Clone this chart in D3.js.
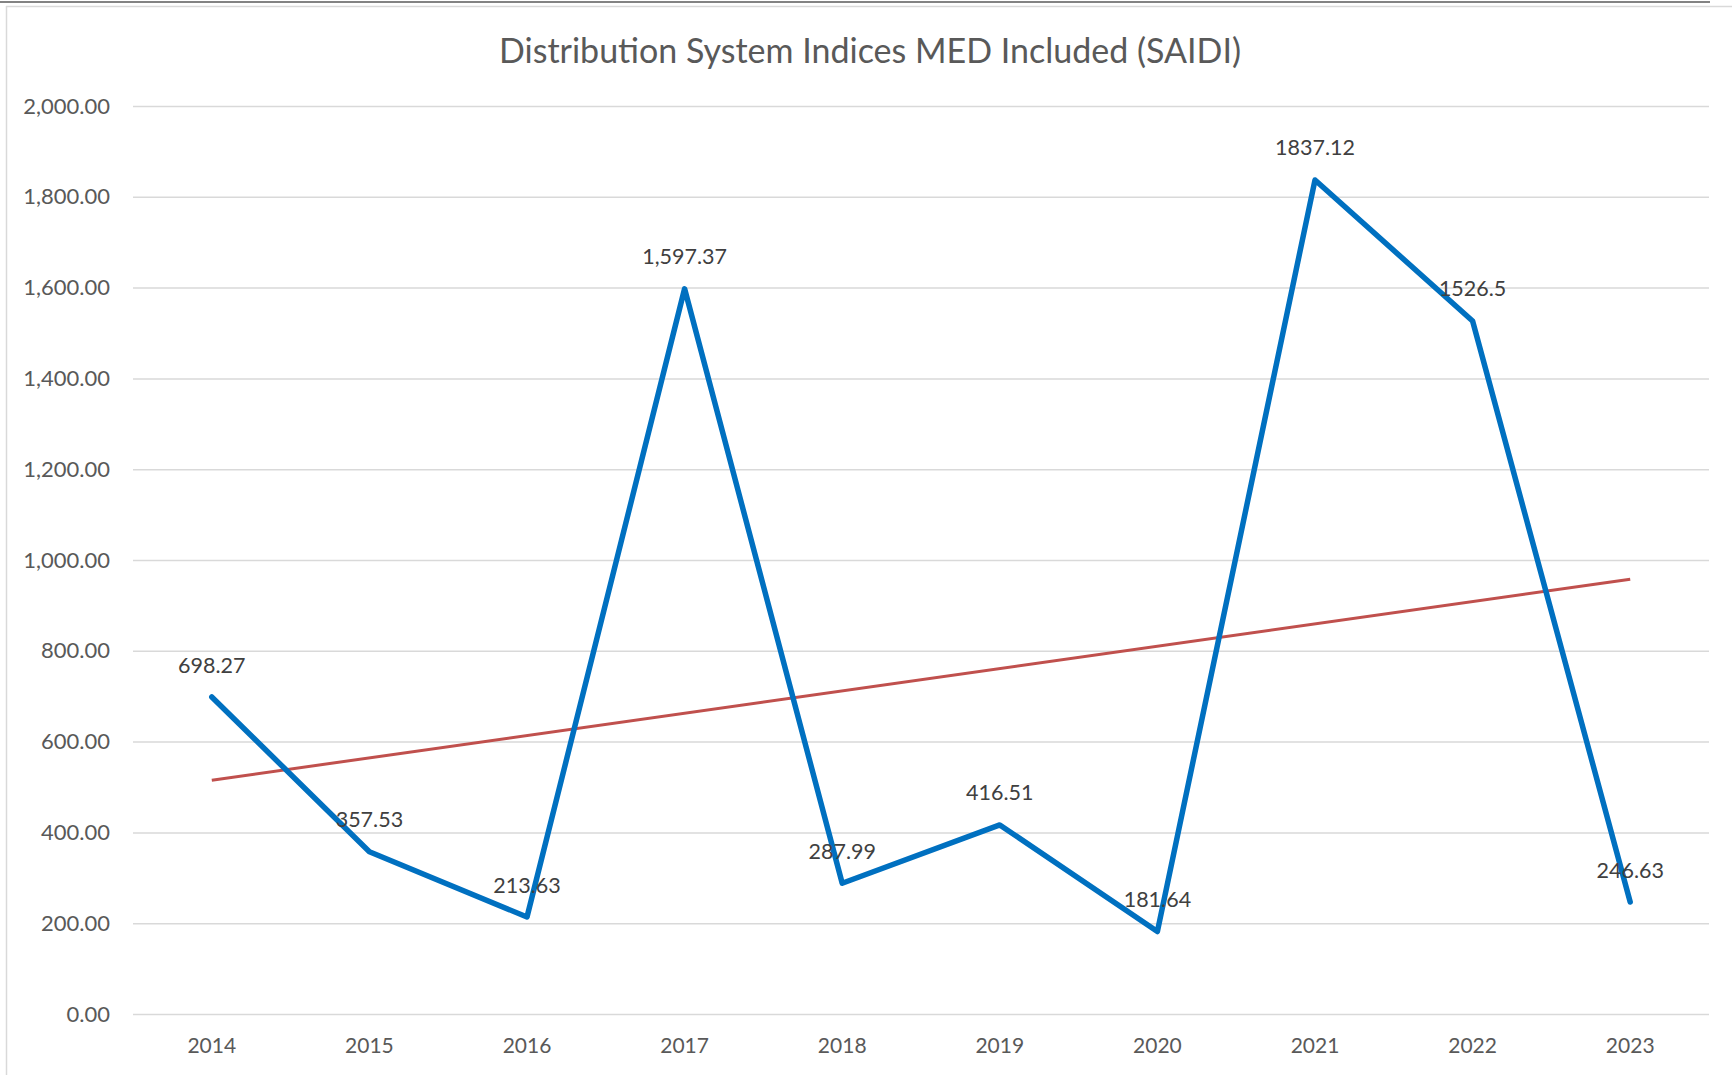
<!DOCTYPE html>
<html>
<head>
<meta charset="utf-8">
<script src="https://cdn.jsdelivr.net/npm/d3@7"></script>
<style>
  html, body { margin: 0; padding: 0; background: #fff; }
  svg { display: block; }
</style>
</head>
<body>
<svg id="chart" width="1732" height="1075"></svg>
<script>
// chart data
const years = ["2014", "2015", "2016", "2017", "2018", "2019", "2020", "2021", "2022", "2023"];
const saidi = [698.27, 357.53, 213.63, 1597.37, 287.99, 416.51, 181.64, 1837.12, 1526.5, 246.63];
const pointLabels = ["698.27", "357.53", "213.63", "1,597.37", "287.99", "416.51", "181.64", "1837.12", "1526.5", "246.63"];
const yTicks = [0, 200, 400, 600, 800, 1000, 1200, 1400, 1600, 1800, 2000];
const title = "Distribution System Indices MED Included (SAIDI)";

const width = 1732, height = 1075;
const margin = { top: 106, right: 23, bottom: 61, left: 133 };
const fontFamily = "Lato, 'Open Sans', sans-serif";

const svg = d3.select("#chart");

// frame lines
svg.append("line")
    .attr("x1", 0).attr("x2", 1710).attr("y1", 2).attr("y2", 2)
    .attr("stroke", "#5a5a5a").attr("stroke-width", 1.5);
svg.append("line")
    .attr("x1", 6).attr("x2", width).attr("y1", 6.5).attr("y2", 6.5)
    .attr("stroke", "#d9d9d9").attr("stroke-width", 1.5);
svg.append("line")
    .attr("x1", 6.5).attr("x2", 6.5).attr("y1", 6).attr("y2", height)
    .attr("stroke", "#d9d9d9").attr("stroke-width", 1.5);

const x = d3.scaleBand()
    .domain(years)
    .range([margin.left, width - margin.right]);

const y = d3.scaleLinear()
    .domain([0, 2000])
    .range([height - margin.bottom, margin.top]);

// title
svg.append("text")
    .attr("x", 870)
    .attr("y", 51)
    .attr("dy", "0.35em")
    .attr("text-anchor", "middle")
    .style("font-family", fontFamily)
    .style("font-size", "34px")
    .style("fill", "#595959")
    .text(title);

// gridlines + y labels
const yAxis = d3.axisLeft(y)
    .tickValues(yTicks)
    .tickSize(-(width - margin.left - margin.right))
    .tickPadding(23)
    .tickFormat(d3.format(",.2f"));

const gy = svg.append("g")
    .attr("transform", "translate(" + margin.left + ",0)")
    .call(yAxis);
gy.select(".domain").remove();
gy.selectAll(".tick line")
    .attr("stroke", "#d9d9d9")
    .attr("stroke-width", 1.5);
gy.selectAll(".tick text")
    .style("font-family", fontFamily)
    .style("font-size", "22px")
    .style("fill", "#595959");

// x labels
const xAxis = d3.axisBottom(x)
    .tickSize(0)
    .tickPadding(24);
const gx = svg.append("g")
    .attr("transform", "translate(0," + y(0) + ")")
    .call(xAxis);
gx.select(".domain").remove();
gx.selectAll(".tick text")
    .style("font-family", fontFamily)
    .style("font-size", "21px")
    .style("fill", "#595959");

const cx = function(d, i) { return x(years[i]) + x.bandwidth() / 2; };

// linear trendline (least squares over the series)
const n = saidi.length;
const xMean = d3.mean(d3.range(n));
const yMean = d3.mean(saidi);
const slope = d3.sum(saidi, function(v, i) { return (i - xMean) * (v - yMean); }) /
    d3.sum(d3.range(n), function(i) { return (i - xMean) * (i - xMean); });
const intercept = yMean - slope * xMean;

svg.append("line")
    .attr("x1", cx(null, 0))
    .attr("y1", y(intercept))
    .attr("x2", cx(null, n - 1))
    .attr("y2", y(intercept + slope * (n - 1)))
    .attr("stroke", "#c0504d")
    .attr("stroke-width", 3);

// series line
const line = d3.line()
    .x(cx)
    .y(function(d) { return y(d); });

svg.append("path")
    .datum(saidi)
    .attr("d", line)
    .attr("fill", "none")
    .attr("stroke", "#0070c0")
    .attr("stroke-width", 5.5)
    .attr("stroke-linejoin", "round")
    .attr("stroke-linecap", "round");

// data labels
svg.append("g").selectAll("text")
    .data(saidi)
    .enter().append("text")
    .attr("x", cx)
    .attr("y", function(d) { return y(d) - 32; })
    .attr("dy", "0.35em")
    .attr("text-anchor", "middle")
    .style("font-family", fontFamily)
    .style("font-size", "21.5px")
    .style("fill", "#404040")
    .text(function(d, i) { return pointLabels[i]; });
</script>
</body>
</html>
